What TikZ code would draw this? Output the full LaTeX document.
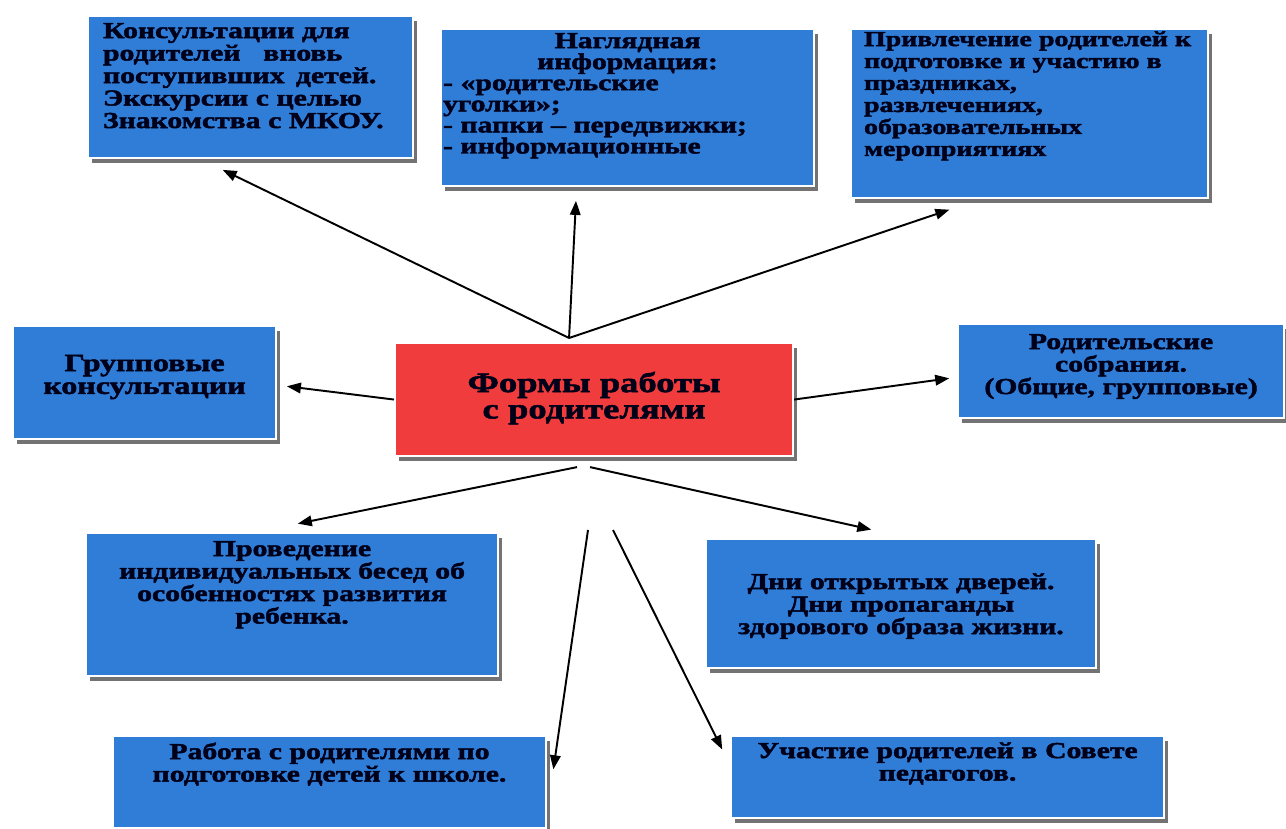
\documentclass[tikz,border=0pt]{standalone}
\usepackage{fontspec}
\newfontfamily\boxfont{Liberation Serif}[FakeStretch=1.3,BoldFeatures={FakeBold=2}]
\usetikzlibrary{arrows.meta,shadows}
\definecolor{boxblue}{RGB}{47,125,215}
\definecolor{boxred}{RGB}{240,60,60}

\begin{document}
\begin{tikzpicture}[shorten >=1pt,->,>={Triangle[length=8pt,width=6pt]}]
        \tikzstyle{form}=[rectangle,anchor=north west,fill=boxblue,draw=white,line width=1.2pt,
                inner xsep=0.1cm,inner ysep=0pt,align=center,text=black!90!blue,
                font=\boxfont\bfseries\fontsize{13}{12.8}\selectfont,
                drop shadow={shadow xshift=2.2pt,shadow yshift=-2.6pt,fill=black!55,opacity=1}]
        \tikzstyle{edge}=[draw,line width=1.1pt]
        \useasboundingbox (0,0) rectangle (25.72,16.56);
       \begin{scope}
         \node [form,fill=boxred,text width=7.76cm,text height=0.98cm,text depth=1.28cm,
                font=\boxfont\bfseries\fontsize{16}{15}\selectfont] (forms) at (7.88,9.72) {Формы работы\\ с родителями};

         \node [form,align=left,inner xsep=0.3cm,text width=5.9cm,text height=0.44cm,text depth=2.4cm] (consult) at (1.74,16.26)
               {Консультации для\\ родителей\quad вновь\\ поступивших\enspace детей.\\ Экскурсии с целью\\ Знакомства с МКОУ.};
         \node [form,align=left,inner xsep=0.04cm,text width=7.38cm,text height=0.38cm,text depth=2.76cm,
                font=\boxfont\bfseries\fontsize{13}{12}\selectfont] (visual) at (8.80,16.00)
               {\makebox[\linewidth][c]{Наглядная}\\ \makebox[\linewidth][c]{информация:}\\ - «родительские\\ уголки»;\\ - папки – передвижки;\\ - информационные};
         \node [form,align=left,inner xsep=0.26cm,text width=6.62cm,text height=0.34cm,text depth=3.04cm,
                font=\boxfont\bfseries\fontsize{12.2}{12.5}\selectfont] (holiday) at (17.00,16.00)
               {Привлечение родителей к\\ подготовке и участию в\\ праздниках,\\ развлечениях,\\ образовательных\\ мероприятиях};
         \node [form,text width=5.06cm,text height=0.9cm,text depth=1.36cm,
                font=\boxfont\bfseries\fontsize{14}{13}\selectfont] (groupcons) at (0.24,10.06) {Групповые\\ консультации};
         \node [form,text width=6.32cm,text height=0.5cm,text depth=1.38cm] (meeting) at (19.14,10.10)
               {Родительские\\ собрания.\\ (Общие, групповые)};
         \node [form,text width=8.04cm,text height=0.46cm,text depth=2.4cm] (talks) at (1.70,5.92)
               {Проведение\\ индивидуальных бесед об\\ особенностях развития\\ ребенка.};
         \node [form,text width=7.6cm,text height=1.0cm,text depth=1.58cm] (opendays) at (14.10,5.80)
               {Дни открытых дверей.\\ Дни пропаганды\\ здорового образа жизни.};
         \node [form,text width=8.46cm,text height=0.46cm,text depth=1.38cm] (school) at (2.24,1.86)
               {Работа с родителями по\\ подготовке детей к школе.};
         \node [form,text width=8.46cm,text height=0.44cm,text depth=1.2cm] (council) at (14.60,1.86)
               {Участие родителей в Совете\\ педагогов.};

         \coordinate (apex) at ([shift={(-0.5,0.08)}]forms.north);
         \coordinate (d1) at (11.76,5.96);
         \coordinate (d2) at (12.26,5.96);

         \path (apex) edge[edge] ([shift={(-0.59,-0.2)}]consult.south);
         \path (apex) edge[edge] ([shift={(-1.03,-0.24)}]visual.south);
         \path (apex) edge[edge] ([shift={(-1.57,-0.2)}]holiday.south);

         \path (forms.west) edge[edge] ([shift={(0.16,-0.07)}]groupcons.east);
         \path (forms.east) edge[edge] ([shift={(-0.12,-0.14)}]meeting.west);

         \path ([shift={(-0.34,-0.2)}]forms.south) edge[edge] ([shift={(0.08,0.16)}]talks.north);
         \path ([shift={(-0.08,-0.2)}]forms.south) edge[edge] ([shift={(-0.56,0.16)}]opendays.north);

         \path (d1) edge[edge] ([shift={(0.12,0.22)}]school.east);
         \path (d2) edge[edge] ([shift={(-0.14,0.52)}]council.west);
        \end{scope}
      \end{tikzpicture}
\end{document}
